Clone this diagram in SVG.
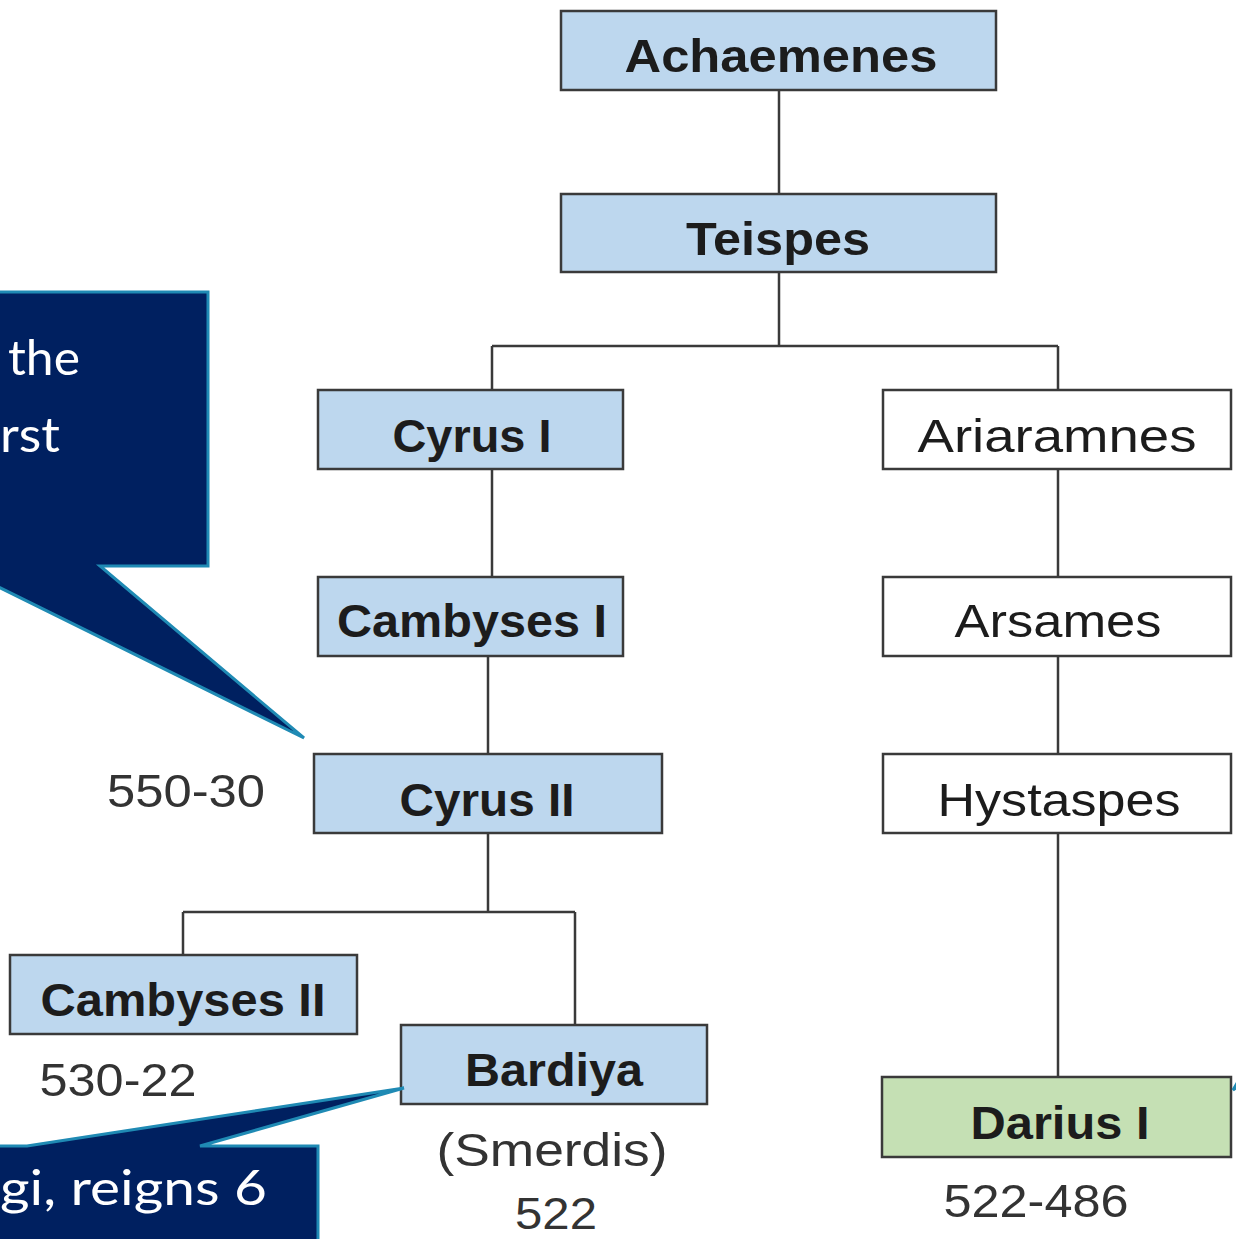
<svg xmlns="http://www.w3.org/2000/svg" width="1236" height="1239" viewBox="0 0 1236 1239">
<style>
.box{stroke:#3a3a3a;stroke-width:2.5}
.blue{fill:#bdd7ee}
.white{fill:#ffffff}
.green{fill:#c5e0b4}
.lbl{font-family:"Liberation Sans",Arial,sans-serif;font-size:47px;fill:#1c1c1c;text-anchor:middle}
.b{font-weight:bold}
.date{font-family:"Liberation Sans",Arial,sans-serif;font-size:46px;fill:#333333;text-anchor:middle}
.conn{stroke:#3a3a3a;stroke-width:2.5;fill:none}
.callout{fill:#002060;stroke:#1f8ab4;stroke-width:3}
.ct{font-family:Lato,"Open Sans",sans-serif;font-size:48px;fill:#ffffff}
</style>
<rect width="1236" height="1239" fill="#ffffff"/>
<g id="connectors">
<path class="conn" d="M779 90V194"/>
<path class="conn" d="M779 272V346M492 346H1058M492 346V390M1058 346V390"/>
<path class="conn" d="M492 469V577"/>
<path class="conn" d="M1058 469V577"/>
<path class="conn" d="M488 656V754"/>
<path class="conn" d="M1058 656V754"/>
<path class="conn" d="M488 833V912M183 912H575M183 912V955M575 912V1025"/>
<path class="conn" d="M1058 833V1077"/>
</g>
<g id="achaemenes"><rect class="box blue" x="561" y="11" width="435" height="79"/><text class="lbl b" x="781" y="72" textLength="313" lengthAdjust="spacingAndGlyphs">Achaemenes</text></g>
<g id="teispes"><rect class="box blue" x="561" y="194" width="435" height="78"/><text class="lbl b" x="778" y="255" textLength="184" lengthAdjust="spacingAndGlyphs">Teispes</text></g>
<g id="cyrus1"><rect class="box blue" x="318" y="390" width="305" height="79"/><text class="lbl b" x="472" y="452" textLength="159" lengthAdjust="spacingAndGlyphs">Cyrus I</text></g>
<g id="ariaramnes"><rect class="box white" x="883" y="390" width="348" height="79"/><text class="lbl" x="1057" y="452" textLength="279" lengthAdjust="spacingAndGlyphs">Ariaramnes</text></g>
<g id="cambyses1"><rect class="box blue" x="318" y="577" width="305" height="79"/><text class="lbl b" x="472" y="637" textLength="270" lengthAdjust="spacingAndGlyphs">Cambyses I</text></g>
<g id="arsames"><rect class="box white" x="883" y="577" width="348" height="79"/><text class="lbl" x="1058" y="637" textLength="207" lengthAdjust="spacingAndGlyphs">Arsames</text></g>
<g id="cyrus2"><rect class="box blue" x="314" y="754" width="348" height="79"/><text class="lbl b" x="487" y="816" textLength="175" lengthAdjust="spacingAndGlyphs">Cyrus II</text></g>
<g id="date-cyrus2"><text class="date" x="186" y="807" textLength="158" lengthAdjust="spacingAndGlyphs">550-30</text></g>
<g id="hystaspes"><rect class="box white" x="883" y="754" width="348" height="79"/><text class="lbl" x="1059" y="816" textLength="243" lengthAdjust="spacingAndGlyphs">Hystaspes</text></g>
<g id="cambyses2"><rect class="box blue" x="10" y="955" width="347" height="79"/><text class="lbl b" x="183" y="1016" textLength="285" lengthAdjust="spacingAndGlyphs">Cambyses II</text></g>
<g id="date-cambyses2"><text class="date" x="118" y="1096" textLength="157" lengthAdjust="spacingAndGlyphs">530-22</text></g>
<g id="bardiya"><rect class="box blue" x="401" y="1025" width="306" height="79"/><text class="lbl b" x="554" y="1086" textLength="178" lengthAdjust="spacingAndGlyphs">Bardiya</text></g>
<g id="date-bardiya"><text class="date" x="552" y="1166" textLength="231" lengthAdjust="spacingAndGlyphs">(Smerdis)</text><text class="date" x="556" y="1229" style="font-size:44px" textLength="82" lengthAdjust="spacingAndGlyphs">522</text></g>
<g id="darius1"><rect class="box green" x="882" y="1077" width="349" height="80"/><text class="lbl b" x="1060" y="1139" textLength="179" lengthAdjust="spacingAndGlyphs">Darius I</text></g>
<g id="date-darius1"><text class="date" x="1036" y="1217" textLength="185" lengthAdjust="spacingAndGlyphs">522-486</text></g>
<g id="callout-cyrus">
<polygon class="callout" points="-300,292 208,292 208,566 100,566 304,738 -40,568 -300,568"/>
<text class="ct" x="8" y="375" textLength="72" lengthAdjust="spacingAndGlyphs">the</text>
<text class="ct" x="0" y="452" textLength="60" lengthAdjust="spacingAndGlyphs">rst</text>
</g>
<g id="callout-bardiya">
<polygon class="callout" points="-300,1146 27,1146 404,1088 200,1146 318,1146 318,1300 -300,1300"/>
<text class="ct" x="0" y="1205" textLength="267" lengthAdjust="spacingAndGlyphs">gi, reigns 6</text>
</g>
<g id="callout-darius">
<polygon class="callout" points="1233,1090 1245,1070 1245,1082"/>
</g>
</svg>
